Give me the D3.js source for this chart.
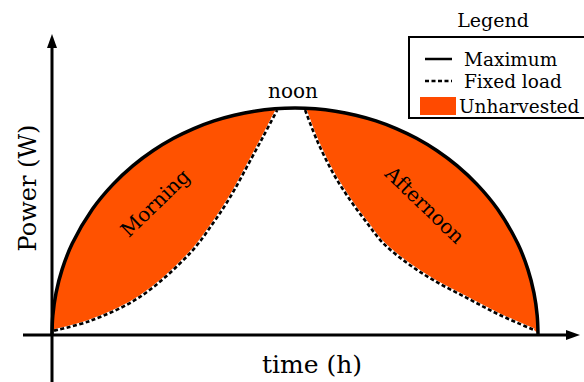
<!DOCTYPE html>
<html>
<head>
<meta charset="utf-8">
<script src="https://cdn.jsdelivr.net/npm/d3@7"></script>
<style>
  html, body { margin: 0; padding: 0; background: #fff; }
  svg { display: block; font-family: "DejaVu Serif", "Liberation Serif", serif; fill: #000; }
</style>
</head>
<body>
<svg id="chart"></svg>
<script>
// Maximum available power (semi-ellipse over the day)
const maxTime  = [0, 0.02, 0.1, 0.25, 0.5, 1, 1.5, 2, 2.5, 3, 3.5, 4, 4.5, 5, 5.5, 6,
                  6.5, 7, 7.5, 8, 8.5, 9, 9.5, 10, 10.5, 11, 11.5, 11.75, 11.9, 11.98, 12];
const maxPower = [0, 8.2, 18.2, 28.6, 40.0, 55.3, 66.1, 74.5, 81.2, 86.6, 90.9, 94.3, 96.8, 98.6, 99.65, 100,
                  99.65, 98.6, 96.8, 94.3, 90.9, 86.6, 81.2, 74.5, 66.1, 55.3, 40.0, 28.6, 18.2, 8.2, 0];

// Fixed load, morning and afternoon branches
const morningTime  = [0.05, 0.94, 2.17, 3.41, 3.98, 4.40, 4.81, 5.21, 5.56];
const morningLoad  = [1.5, 5.8, 16.4, 35.8, 49.1, 60.6, 73.9, 87.2, 99.1];
const afternoonTime = [6.25, 6.54, 6.94, 7.36, 7.78, 8.17, 8.77, 9.41, 10.25, 11.06, 11.9];
const afternoonLoad = [99.1, 85.8, 71.2, 59.3, 49.1, 40.3, 31.4, 23.9, 15.9, 8.4, 1.8];

const regionLabels = ["Morning", "Afternoon"];
const legendLabels = ["Maximum", "Fixed load", "Unharvested"];

const fillColor = "#ff5200";

function draw() {
    const width = 584, height = 382;
    const svg = d3.select("#chart").attr("width", width).attr("height", height);

    const x = d3.scaleLinear().domain([0, 12]).range([52, 538]);
    const y = d3.scaleLinear().domain([0, 100]).range([334, 108]);

    const zip = (ts, ps) => ts.map((t, i) => ({ t, p: ps[i] }));
    const maxData = zip(maxTime, maxPower);
    const morning = zip(morningTime, morningLoad);
    const afternoon = zip(afternoonTime, afternoonLoad);
    // load under the noon plateau follows the maximum
    const noon = maxData.filter(d => d.t > morningTime[morningTime.length - 1] && d.t < afternoonTime[0]);
    const loadAll = [{ t: 0, p: 0 }].concat(morning, noon, afternoon, [{ t: 12, p: 0 }]);

    const curve = d3.curveCatmullRom.alpha(0.5);
    const area = d3.area().x(d => x(d.t)).y0(y(0)).y1(d => y(d.p)).curve(curve);
    const line = d3.line().x(d => x(d.t)).y(d => y(d.p)).curve(curve);

    // unharvested = area under maximum minus area under fixed load
    svg.append("path").datum(maxData).attr("d", area).attr("fill", fillColor);
    svg.append("path").datum(loadAll).attr("d", area).attr("fill", "#fff");

    // fixed load lines (white underlay + black dashes)
    [morning, afternoon].forEach(seg => {
        svg.append("path").datum(seg).attr("d", line)
            .attr("fill", "none").attr("stroke", "#fff").attr("stroke-width", 3);
        svg.append("path").datum(seg).attr("d", line)
            .attr("fill", "none").attr("stroke", "#000").attr("stroke-width", 2.6)
            .attr("stroke-dasharray", "4,2.5");
    });

    // maximum line
    svg.append("path").datum(maxData).attr("d", line)
        .attr("fill", "none").attr("stroke", "#000").attr("stroke-width", 3.5);

    // axes with arrow heads
    svg.append("line").attr("x1", 52).attr("x2", 52).attr("y1", 382).attr("y2", 46)
        .attr("stroke", "#000").attr("stroke-width", 3);
    svg.append("path").attr("d", "M52,34 L47,48 L57,48 Z").attr("fill", "#000");
    svg.append("line").attr("x1", 23).attr("x2", 568).attr("y1", 335).attr("y2", 335)
        .attr("stroke", "#000").attr("stroke-width", 3);
    svg.append("path").attr("d", "M580,335 L566,330 L566,340 Z").attr("fill", "#000");

    // axis titles
    svg.append("text").attr("x", 312).attr("y", 373).attr("text-anchor", "middle")
        .style("font-size", "25px").text("time (h)");
    svg.append("text").attr("transform", "translate(36,188) rotate(-90)")
        .attr("text-anchor", "middle").style("font-size", "24px").text("Power (W)");

    // noon label
    svg.append("text").attr("x", x(6) - 2).attr("y", 98).attr("text-anchor", "middle")
        .style("font-size", "20px").text("noon");

    // region labels
    svg.append("text").attr("transform", "translate(160,208) rotate(-44)")
        .attr("text-anchor", "middle").style("font-size", "20px").text(regionLabels[0]);
    svg.append("text").attr("transform", "translate(420,210) rotate(44)")
        .attr("text-anchor", "middle").style("font-size", "20px").text(regionLabels[1]);

    // legend
    const lg = svg.append("g");
    lg.append("text").attr("x", 493).attr("y", 27).attr("text-anchor", "middle")
        .style("font-size", "19px").text("Legend");
    lg.append("rect").attr("x", 409).attr("y", 37).attr("width", 200).attr("height", 81)
        .attr("fill", "#fff").attr("stroke", "#000").attr("stroke-width", 2);
    lg.append("line").attr("x1", 425).attr("x2", 452).attr("y1", 59).attr("y2", 59)
        .attr("stroke", "#000").attr("stroke-width", 2.5);
    lg.append("line").attr("x1", 425).attr("x2", 452).attr("y1", 81).attr("y2", 81)
        .attr("stroke", "#000").attr("stroke-width", 2.5).attr("stroke-dasharray", "4,2.5");
    lg.append("rect").attr("x", 420).attr("y", 97).attr("width", 36).attr("height", 18)
        .attr("fill", "#ff4a00");
    [[464, 66], [464, 88], [459, 113]].forEach((pos, i) => {
        lg.append("text").attr("x", pos[0]).attr("y", pos[1])
            .style("font-size", "18.5px").text(legendLabels[i]);
    });
}

draw();
</script>
</body>
</html>
